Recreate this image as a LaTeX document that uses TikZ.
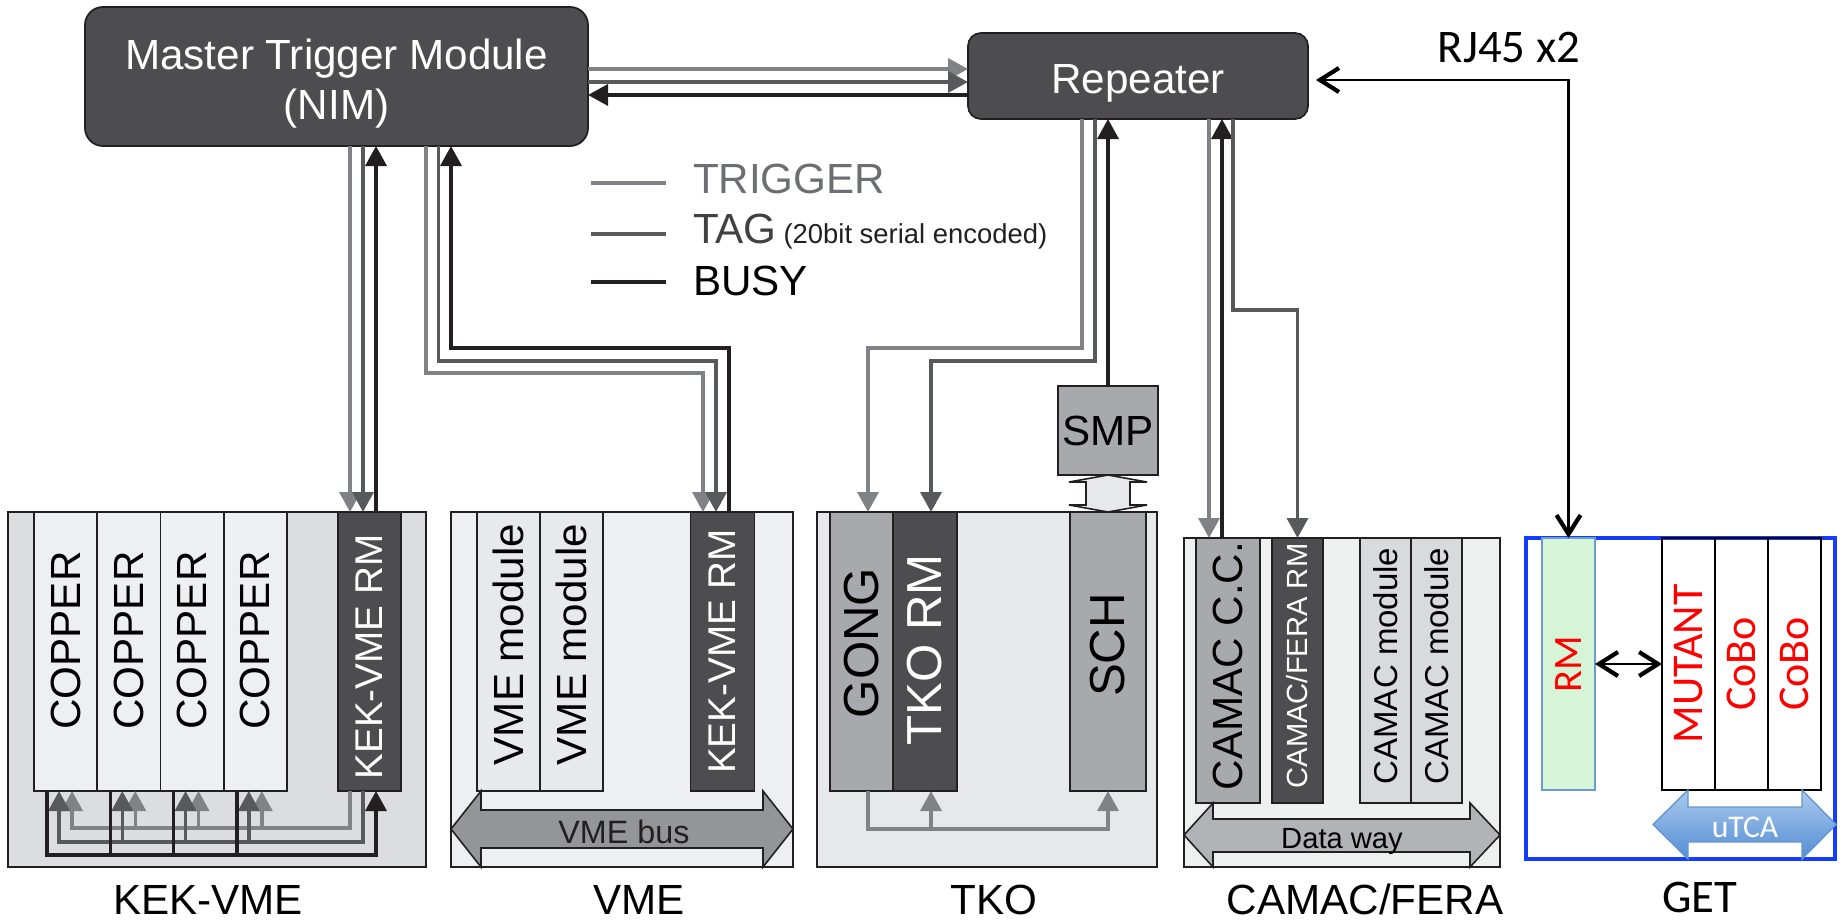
\documentclass[tikz,border=0pt]{standalone}
\usepackage{graphicx}
\usepackage{fontspec}
\setmainfont{Liberation Sans}
\newfontfamily\calibrifont{Carlito}
\usetikzlibrary{arrows.meta}

% greys of the crates and modules
\definecolor{boxdark}{RGB}{77,77,79}
\definecolor{boxmid}{RGB}{167,169,172}
\definecolor{boxlight}{RGB}{217,218,220}
\definecolor{boxpale}{RGB}{238,239,240}
\definecolor{vmemod}{RGB}{232,233,235}
\definecolor{cratekek}{RGB}{220,221,223}
\definecolor{cratetko}{RGB}{231,232,233}
\definecolor{cratecam}{RGB}{238,239,239}
\definecolor{busgray}{RGB}{147,149,152}
\definecolor{waygray}{RGB}{177,179,182}
\definecolor{edgecol}{RGB}{35,31,32}
% signal lines
\definecolor{trigcol}{RGB}{128,130,133}
\definecolor{tagcol}{RGB}{88,89,91}
\definecolor{busycol}{RGB}{35,31,32}
\definecolor{legendtrig}{RGB}{109,110,113}
\definecolor{legendtag}{RGB}{65,64,66}
% GET system
\definecolor{getblue}{RGB}{20,60,255}
\definecolor{getgreen}{RGB}{214,245,214}
\definecolor{getedge}{RGB}{108,155,210}
\definecolor{getred}{RGB}{255,0,0}
\definecolor{utcatop}{RGB}{170,202,238}
\definecolor{utcabot}{RGB}{84,141,212}
\definecolor{utcaedge}{RGB}{100,150,210}

% rotated module text, optional shift along the module
\newcommand{\vlabel}[2][0mm]{\rotatebox{90}{\hspace*{#1}#2}}

\begin{document}
\begin{tikzpicture}[x=0.1mm, y=-0.1mm,
  >={Triangle[length=2mm,width=2.1mm]},
  barb/.tip={Straight Barb[length=1.9mm,width=2.4mm,line width=1.2pt]},
  every node/.style={inner sep=0pt, outer sep=0pt},
  ctrlbox/.style={draw=edgecol, line width=0.5pt, fill=boxdark},
  ctrltext/.style={text=white, align=center, font=\fontsize{12}{14}\selectfont},
  crate/.style={draw=edgecol, line width=0.5pt, minimum height=35.5mm},
  module/.style={draw=edgecol, line width=0.45pt, minimum height=27.9mm, font=\fontsize{12}{14}\selectfont},
  rmmodule/.style={module, fill=boxdark, text=white},
  cammodule/.style={module, minimum height=26.5mm},
  getmodule/.style={minimum width=5.3mm, minimum height=25.2mm, text=getred, font=\calibrifont\fontsize{12.5}{14}\selectfont},
  sig/.style={line width=1pt},
  trigline/.style={sig, draw=trigcol},
  tagline/.style={sig, draw=tagcol},
  busyline/.style={sig, draw=busycol},
  cratename/.style={anchor=base, font=\fontsize{12}{14}\selectfont},
  busshape/.style={draw=edgecol, line width=0.45pt},
  rjline/.style={draw=black, line width=0.8pt}]
\useasboundingbox (0,0) rectangle (1843,920);

% Trigger module and repeater
\node[ctrlbox, minimum width=50.3mm, minimum height=13.9mm, rounded corners=1.8mm] (mtm) at (336.5,76.5) {};
\node[ctrltext] (mtmtext) at ([yshift=-0.7mm]mtm.center) {Master Trigger Module\\(NIM)};
\node[ctrlbox, minimum width=34mm, minimum height=8.6mm, rounded corners=1.3mm] (rep) at (1138,76) {};
\node[ctrltext] (reptext) at ([yshift=-0.7mm]rep.center) {Repeater};

% Legend
\draw[trigline] (591,183) -- (666,183);
\draw[tagline] (591,234) -- (666,234);
\draw[busyline] (591,282) -- (666,282);
\node[anchor=base west, text=legendtrig, font=\fontsize{12}{14}\selectfont] (lgtrig) at (693,193) {TRIGGER};
\node[anchor=base west, text=legendtag, font=\fontsize{12}{14}\selectfont] (lgtag) at (693,243) {TAG};
\node[anchor=base west, xshift=0.7mm, text=edgecol, font=\fontsize{7.8}{9}\selectfont] (lgnote) at (lgtag.base east) {(20bit serial encoded)};
\node[anchor=base west, text=black, font=\fontsize{12}{14}\selectfont] (lgbusy) at (693,295) {BUSY};

% KEK-VME crate
\node[crate, fill=cratekek, minimum width=41.8mm] (kek) at (217,689.5) {};
\foreach \i in {1,...,4}
  \node[module, fill=boxpale, minimum width=6.33mm] (cu\i) at ({2.4+63.25*\i},651.5) {\vlabel[2.2mm]{COPPER}};
\node[rmmodule, minimum width=6.3mm, font=\fontsize{11}{13}\selectfont] (kekrm) at (369.5,651.5) {\vlabel[-1.1mm]{KEK-VME RM}};
\node[cratename] (kekname) at (208,914) {KEK-VME};

% VME crate
\node[crate, fill=boxpale, minimum width=34.2mm] (vme) at (622,689.5) {};
\node[module, fill=vmemod, minimum width=6.3mm] (vm1) at (508.5,651.5) {\vlabel[1.4mm]{VME module}};
\node[module, fill=vmemod, minimum width=6.3mm] (vm2) at (571.5,651.5) {\vlabel[1.4mm]{VME module}};
\node[rmmodule, minimum width=6.4mm, font=\fontsize{11}{13}\selectfont] (vmerm) at (722.5,651.5) {\vlabel{KEK-VME RM}};
\filldraw[busshape, fill=busgray] (451,829) -- (481,791) -- (481,810) -- (763,810) -- (763,791) -- (793,829)
  -- (763,867) -- (763,848) -- (481,848) -- (481,867) -- cycle;
\node[anchor=base, text=edgecol, font=\fontsize{9.2}{11}\selectfont] (vmebus) at (624,843) {VME bus};
\node[cratename] (vmename) at (639,914) {VME};

% TKO crate
\node[crate, fill=cratetko, minimum width=34mm] (tko) at (987,689.5) {};
\node[module, fill=boxmid, minimum width=6.3mm, font=\fontsize{14}{16}\selectfont] (gong) at (861.5,651.5) {\vlabel[1.7mm]{GONG}};
\node[rmmodule, minimum width=6.4mm, font=\fontsize{14}{16}\selectfont] (tkorm) at (925,651.5) {\vlabel[0.3mm]{TKO RM}};
\node[module, fill=boxmid, minimum width=7.6mm, font=\fontsize{14}{16}\selectfont] (sch) at (1108,651.5) {\vlabel[1.3mm]{SCH}};
\node[module, fill=boxmid, minimum width=10mm, minimum height=8.9mm] (smp) at (1108,430.5) {SMP};
\filldraw[busshape, fill=cratetko] (1108,475) -- (1147,482) -- (1130,482) -- (1130,505) -- (1147,505) -- (1108,512)
  -- (1069,505) -- (1086,505) -- (1086,482) -- (1069,482) -- cycle;
\node[cratename] (tkoname) at (994,914) {TKO};

% CAMAC/FERA crate
\node[crate, fill=cratecam, minimum width=31.6mm, minimum height=32.9mm] (camac) at (1342,702.5) {};
\node[cammodule, fill=boxmid, minimum width=6.4mm] (camcc) at (1228,670.5) {\vlabel[0.9mm]{CAMAC C.C.}};
\node[cammodule, fill=boxdark, text=white, minimum width=5.1mm, font=\fontsize{8.3}{10}\selectfont] (ferarm) at (1297.5,670.5) {\vlabel[0.9mm]{CAMAC/FERA RM}};
\node[cammodule, fill=boxlight, minimum width=5.1mm, font=\fontsize{9.4}{11}\selectfont] (cm1) at (1385.5,670.5) {\vlabel[0.9mm]{CAMAC module}};
\node[cammodule, fill=boxlight, minimum width=5.1mm, font=\fontsize{9.4}{11}\selectfont] (cm2) at (1436.5,670.5) {\vlabel[0.9mm]{CAMAC module}};
\filldraw[busshape, fill=waygray] (1184,835) -- (1213,803) -- (1213,819) -- (1470,819) -- (1470,803) -- (1500,835)
  -- (1470,867) -- (1470,852) -- (1213,852) -- (1213,867) -- cycle;
\node[anchor=base, text=black, font=\fontsize{8.3}{10}\selectfont] (dataway) at (1342,848) {Data way};
\node[cratename] (camacname) at (1365,914) {CAMAC/FERA};

% GET crate
\node[draw=getblue, line width=1pt, minimum width=30.9mm, minimum height=32.1mm] (get) at (1680.5,698.5) {};
\node[getmodule, fill=getgreen, draw=getedge, line width=0.6pt, font=\calibrifont\fontsize{11.5}{13}\selectfont] (getrm) at (1568.5,664) {\vlabel{RM}};
\foreach \n/\x/\t in {mutant/1688.5/MUTANT, cobo1/1741.5/CoBo, cobo2/1794.5/CoBo}
  \node[getmodule, draw=black, line width=0.7pt] (\n) at (\x,664) {\vlabel{\t}};
\shadedraw[top color=utcatop, bottom color=utcabot, draw=utcaedge, line width=0.4pt]
  (1653,824.5) -- (1688,790) -- (1688,807) -- (1802,807) -- (1802,790) -- (1836,824.5)
  -- (1802,859) -- (1802,842) -- (1688,842) -- (1688,859) -- cycle;
\node[anchor=base, text=white, font=\calibrifont\fontsize{9}{11}\selectfont] (utca) at (1745,837) {uTCA};
\node[cratename, font=\calibrifont\fontsize{13.3}{15}\selectfont] (getname) at (1700,912) {GET};
\draw[rjline, line width=0.6pt, barb-barb] (getrm.east) -- (mutant.west);

% RJ45 link from the repeater
\draw[rjline, barb-barb, shorten <=0.8mm] ([yshift=-0.4mm]rep.east) -| (getrm.north);
\node[anchor=base, font=\calibrifont\fontsize{13.3}{15}\selectfont] (rj45) at (1509,62) {RJ45 x2};

% MTM <-> repeater
\draw[trigline, ->] ([yshift=0.75mm]mtm.east) -- ([yshift=0.75mm]mtm.east -| rep.west);
\draw[tagline, ->] ([yshift=-0.55mm]mtm.east) -- ([yshift=-0.55mm]mtm.east -| rep.west);
\draw[busyline, ->] ([yshift=-1.85mm]mtm.east -| rep.west) -- ([yshift=-1.85mm]mtm.east);

% MTM <-> KEK-VME RM
\coordinate (kek-t) at ([xshift=-1.95mm]kekrm.north);
\coordinate (kek-g) at ([xshift=-0.65mm]kekrm.north);
\coordinate (kek-b) at ([xshift=0.65mm]kekrm.north);
\draw[trigline, ->] (kek-t |- mtm.south) -- (kek-t);
\draw[tagline, ->] (kek-g |- mtm.south) -- (kek-g);
\draw[busyline, ->] (kek-b) -- (kek-b |- mtm.south);

% MTM <-> KEK-VME RM in the VME crate
\coordinate (vme-t) at ([xshift=-1.95mm]vmerm.north);
\coordinate (vme-g) at ([xshift=-0.65mm]vmerm.north);
\coordinate (vme-b) at ([xshift=0.65mm]vmerm.north);
\draw[trigline, ->] ([xshift=8.95mm]mtm.south) -- ++(0,227) -| (vme-t);
\draw[tagline, ->] ([xshift=10.2mm]mtm.south) -- ++(0,215) -| (vme-g);
\draw[busyline, ->] (vme-b) -- ++(0,-164) -| ([xshift=11.45mm]mtm.south);

% repeater <-> TKO
\coordinate (tko-t) at ([xshift=0.65mm]gong.north);
\coordinate (tko-g) at ([xshift=0.6mm]tkorm.north);
\draw[trigline, ->] ([xshift=-5.6mm]rep.south) -- ++(0,229) -| (tko-t);
\draw[tagline, ->] ([xshift=-4.3mm]rep.south) -- ++(0,242) -| (tko-g);
\draw[busyline, ->] (smp.north) -- (smp.north |- rep.south);

% TKO backplane from GONG
\coordinate (tko-bus) at ([yshift=-3.8mm]gong.south);
\draw[trigline, ->] ([xshift=0.65mm]gong.south) |- ([yshift=-3.8mm]sch.south) -- (sch.south);
\draw[trigline, ->] ([xshift=0.6mm]tkorm.south |- tko-bus) -- ([xshift=0.6mm]tkorm.south);

% repeater <-> CAMAC/FERA
\coordinate (cam-t) at ([xshift=-1.9mm]camcc.north);
\coordinate (cam-b) at ([xshift=-0.6mm]camcc.north);
\draw[trigline, ->] (cam-t |- rep.south) -- (cam-t);
\draw[busyline, ->] (cam-b) -- (cam-b |- rep.south);
\draw[tagline, ->] ([xshift=9.5mm]rep.south) -- ++(0,191) -| (ferarm.north);

% KEK-VME RM <-> COPPER boards
\foreach \i in {1,...,4} {
  \coordinate (cu\i-t) at ([xshift=0.64mm]cu\i.south);
  \coordinate (cu\i-g) at ([xshift=-0.66mm]cu\i.south);
  \coordinate (cu\i-b) at ([xshift=-1.86mm]cu\i.south);
}
\draw[trigline, ->] ([xshift=-1.95mm]kekrm.south) |- ([yshift=-3.7mm]cu1-t) -- (cu1-t);
\draw[tagline, ->] ([xshift=-0.65mm]kekrm.south) |- ([yshift=-5.1mm]cu1-g) -- (cu1-g);
\draw[busyline, ->] (cu1-b) |- ([xshift=0.65mm,yshift=-6.4mm]kekrm.south) -- ([xshift=0.65mm]kekrm.south);
\foreach \i in {2,3,4} {
  \draw[trigline, ->] ([yshift=-3.7mm]cu\i-t) -- (cu\i-t);
  \draw[tagline, ->] ([yshift=-5.1mm]cu\i-g) -- (cu\i-g);
  \draw[busyline] (cu\i-b) -- ([yshift=-6.4mm]cu\i-b);
}
\end{tikzpicture}
\end{document}
